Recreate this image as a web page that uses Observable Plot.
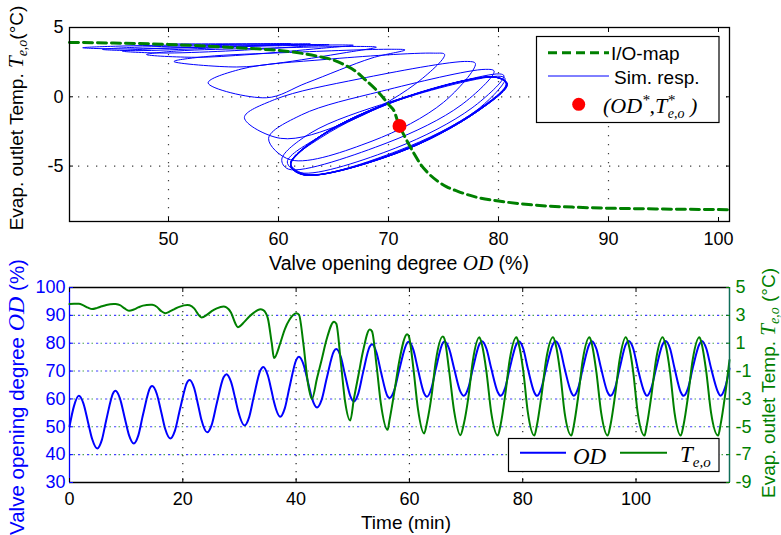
<!DOCTYPE html>
<html><head><meta charset="utf-8">
<script src="https://cdn.jsdelivr.net/npm/d3@7"></script>
<script src="https://cdn.jsdelivr.net/npm/@observablehq/plot@0.6"></script>
<style>
body{margin:0;background:#fff;}
#chart{position:relative;width:781px;height:535px;overflow:hidden;background:#fff;}
#chart svg{position:absolute;left:0;top:0;}
</style></head><body><div id="chart"></div>
<script>
// ---- simulation time series ----
const timeMin = [0,0.8,1.65,2.45,3.27,4.0,4.9,5.7,6.5,
 7.8,8.1,8.9,9.72,10.5,11.35,12.15,12.97,
 14.3,14.6,15.4,16.2,16.9,17.8,18.6,19.5,
 20.8,21.2,22.0,22.75,23.3,24.3,25.1,26.0,
 27.2,27.7,28.5,29.3,29.7,30.9,31.7,32.55,
 33.7,34.2,35.0,35.7,36.1,37.2,38.0,38.85,
 40.05,40.5,41.3,42.1,42.8,43.7,44.5,45.4,
 46.7,47.1,47.9,48.65,49.55,50.2,51.0,51.8,
 53.0,53.4,54.2,54.95,56.15,56.5,57.3,58.2,
 59.6,59.9,60.7,61.5,62.6,63.1,63.9,64.65,
 65.9,66.2,67.0,67.9,69.0,69.6,70.4,71.2,
 72.35,72.8,73.6,74.45,75.6,76.1,76.9,77.7,
 78.9,79.3,80.1,80.9,82.05,82.5,83.3,84.15,
 85.35,85.8,86.6,87.4,88.6,89.0,89.8,90.6,
 91.8,92.2,93.0,93.85,95.0,95.5,96.3,97.1,
 98.2,98.7,99.5,100.3,101.5,101.9,102.7,103.55,
 104.7,105.2,106.0,106.8,107.9,108.4,109.2,110.0,
 111.2,111.6,112.4,113.25,114.5,114.9,115.7,116.5];
const valvePct = [50.1,57.5,61.1,58.4,51.65,45.6,42.2,45.2,52.55,
 62.45,62.9,60.2,53.45,47.0,44.0,46.9,54.3,
 64.2,64.6,61.85,55.2,49.2,45.8,48.55,56.3,
 66.1,66.8,63.9,57.4,52.4,48.0,50.7,58.45,
 67.8,68.9,66.2,59.7,56.2,50.5,53.4,61.0,
 70.3,71.5,68.5,62.55,58.9,53.6,56.6,64.35,
 74.1,75.1,72.4,66.0,60.2,56.9,59.65,67.4,
 77.2,77.9,75.0,68.5,61.1,59.1,62.1,69.35,
 78.8,79.6,76.6,69.95,60.9,60.3,62.95,70.4,
 80.1,80.5,77.6,70.65,62.0,60.8,63.9,70.7,
 80.15,80.6,78.05,70.85,62.6,61.1,63.95,70.9,
 79.6,80.7,78.0,70.9,62.4,61.1,63.95,70.9,
 79.7,80.7,78.0,70.9,62.3,61.1,63.9,71.1,
 79.7,80.75,78.0,70.9,62.2,61.1,63.95,70.9,
 79.8,80.75,78.0,70.8,62.3,61.1,63.95,70.9,
 79.6,80.8,78.1,71.0,62.3,61.1,63.9,71.0,
 79.6,80.8,78.1,71.0,62.4,61.1,63.95,71.0,
 79.7,80.8,78.1,71.0,62.3,61.1,63.95,70.9];
const tempC = [3.81,3.83,3.83,3.72,3.55,3.45,3.54,3.65,3.75,
 3.82,3.81,3.74,3.5,3.33,3.42,3.57,3.7,
 3.77,3.76,3.62,3.3,3.16,3.3,3.47,3.63,
 3.74,3.72,3.5,3.05,2.85,3.05,3.3,3.5,
 3.63,3.58,3.2,2.4,2.15,2.55,2.9,3.2,
 3.43,3.38,2.8,1.0,-0.07,1.0,2.0,2.7,
 3.15,3.05,0.9,-1.9,-3.0,-1.5,-0.2,1.3,
 2.55,2.4,-0.4,-3.2,-4.55,-3.0,-1.3,0.4,
 1.98,1.85,-0.6,-3.3,-5.22,-4.5,-2.6,-0.3,
 1.65,1.5,-0.8,-3.7,-5.48,-4.7,-2.8,-0.3,
 1.48,1.3,-0.95,-3.9,-5.6,-4.8,-2.9,-0.25,
 1.42,0.9,-1.05,-4.0,-5.63,-4.85,-2.75,-0.2,
 1.42,0.95,-1.0,-3.95,-5.63,-4.9,-2.8,-0.15,
 1.42,0.95,-1.05,-4.0,-5.63,-4.95,-2.8,-0.2,
 1.42,0.95,-1.05,-4.0,-5.63,-4.85,-2.75,-0.2,
 1.42,0.9,-1.05,-4.0,-5.63,-4.9,-2.8,-0.15,
 1.42,0.9,-1.05,-4.0,-5.63,-4.85,-2.75,-0.2,
 1.42,0.95,-1.05,-4.0,-5.63,-4.9,-2.8,-0.2];

// ---- static I/O map and operating point ----
const ioMapOD = [41,45,50,55,58,60,62,64,65,66,67,68,69,69.5,70,70.6,70.8,71,71.4,71.85,72.4,72.9,73.6,74.4,75.3,76.3,78,80,82,84.4,87,90.5,95,101];
const ioMapT  = [3.92,3.88,3.78,3.6,3.46,3.35,3.15,2.85,2.65,2.3,1.85,1.15,0.4,-0.05,-0.55,-1.2,-1.7,-2.1,-2.75,-3.43,-4.2,-4.85,-5.5,-6.05,-6.5,-6.82,-7.25,-7.52,-7.72,-7.88,-7.97,-8.05,-8.1,-8.15];
const opPointOD = [71.0];
const opPointT = [-2.1];

// ---- ticks ----
const topXTicks = [50,60,70,80,90,100];
const topYTicks = [-5,0,5];
const timeTicks = [0,20,40,60,80,100];
const odTicks = [30,40,50,60,70,80,90,100];
const tempTicks = [-9,-7,-5,-3,-1,1,3,5];

const sim = timeMin.map((t,i)=>({t, od: valvePct[i], temp: tempC[i]}));
const ioMap = ioMapOD.map((od,i)=>({od, temp: ioMapT[i]}));
const opPoint = opPointOD.map((od,i)=>({od, temp: opPointT[i]}));

const SANS = "'Liberation Sans', Arial, Helvetica, sans-serif";
const SERIF = "'Liberation Serif', 'Times New Roman', serif";
const BLUE = "#0000ff", GREEN = "#008000";
const baseStyle = {background:"transparent", fontFamily:SANS, fontSize:"18px", color:"#000", overflow:"visible"};
const fmt = d => String(d);
const blank = () => "";

const chart = document.getElementById("chart");

// ---- top panel: phase plane ----
const topPlot = Plot.plot({
  width:781, height:535, marginLeft:69, marginRight:52, marginTop:27, marginBottom:314,
  style: baseStyle,
  x:{domain:[41,101], axis:null}, y:{domain:[-9,5], axis:null},
  marks:[
    Plot.gridX(topXTicks.slice(0,5), {stroke:"#000", strokeOpacity:0.75, strokeDasharray:"1.3,7.7", strokeWidth:1.2}),
    Plot.gridY([-5,0], {stroke:"#000", strokeOpacity:0.75, strokeDasharray:"1.3,7.7", strokeWidth:1.2}),
    Plot.line(sim, {x:"od", y:"temp", curve:"catmull-rom", stroke:BLUE, strokeWidth:1}),
    Plot.line(ioMap, {x:"od", y:"temp", curve:"monotone-x", stroke:GREEN, strokeWidth:3, strokeDasharray:"9,5"}),
    Plot.dot(opPoint, {x:"od", y:"temp", r:7, fill:"#ff0000", stroke:"none"}),
    Plot.frame({stroke:"#000", strokeWidth:1.3}),
    Plot.axisX(topXTicks, {tickSize:0, tickPadding:11, tickFormat:fmt, label:null}),
    Plot.axisX(topXTicks, {tickSize:-4, tickFormat:blank, label:null}),
    Plot.axisX(topXTicks, {anchor:"top", tickSize:-4, tickFormat:blank, label:null}),
    Plot.axisY(topYTicks, {tickSize:0, tickPadding:6, tickFormat:fmt, label:null}),
    Plot.axisY(topYTicks, {tickSize:-4, tickFormat:blank, label:null}),
    Plot.axisY(topYTicks, {anchor:"right", tickSize:-4, tickFormat:blank, label:null})
  ]
});
chart.appendChild(topPlot);

// ---- bottom panel: valve opening (left axis) ----
const odPlot = Plot.plot({
  width:781, height:535, marginLeft:69, marginRight:52, marginTop:287, marginBottom:53,
  style: baseStyle,
  x:{domain:[0,116.5], axis:null}, y:{domain:[30,100], axis:null},
  marks:[
    Plot.gridX(timeTicks.slice(1), {stroke:"#000", strokeOpacity:0.85, strokeDasharray:"1.3,6.7", strokeWidth:1.2}),
    Plot.gridY(odTicks.slice(1,7), {stroke:BLUE, strokeOpacity:0.75, strokeDasharray:"2.2,6.8", strokeWidth:1.1}),
    Plot.line(sim, {x:"t", y:"od", curve:"monotone-x", stroke:BLUE, strokeWidth:2}),
    Plot.ruleY([30,100], {stroke:"#000", strokeWidth:1.3}),
    Plot.ruleX([0], {stroke:BLUE, strokeWidth:1.3}),
    Plot.axisX(timeTicks, {tickSize:0, tickPadding:10, tickFormat:fmt, label:null}),
    Plot.axisX(timeTicks, {tickSize:-4, tickFormat:blank, label:null}),
    Plot.axisX(timeTicks, {anchor:"top", tickSize:-4, tickFormat:blank, label:null}),
    Plot.axisY(odTicks, {tickSize:0, tickPadding:4, tickFormat:fmt, fill:BLUE, label:null}),
    Plot.axisY(odTicks, {tickSize:-4, tickFormat:blank, stroke:BLUE, label:null})
  ]
});
chart.appendChild(odPlot);

// ---- bottom panel: evaporator outlet temperature (right axis) ----
const tPlot = Plot.plot({
  width:781, height:535, marginLeft:69, marginRight:52, marginTop:287, marginBottom:53,
  style: baseStyle,
  x:{domain:[0,116.5], axis:null}, y:{domain:[-9,5], axis:null},
  marks:[
    Plot.gridY(tempTicks.slice(1,7), {stroke:GREEN, strokeOpacity:0.7, strokeDasharray:"1.5,7.5", strokeDashoffset:-4.5, strokeWidth:1.1}),
    Plot.line(sim, {x:"t", y:"temp", curve:"monotone-x", stroke:GREEN, strokeWidth:2}),
    Plot.ruleX([116.5], {stroke:"#106e5a", strokeWidth:1.5}),
    Plot.axisY(tempTicks, {anchor:"right", tickSize:0, tickPadding:6, tickFormat:fmt, fill:GREEN, label:null}),
    Plot.axisY(tempTicks, {anchor:"right", tickSize:-4, tickFormat:blank, stroke:GREEN, label:null})
  ]
});
chart.appendChild(tPlot);

// ---- labels and legends ----
const ann = d3.select(chart).append("svg").attr("width",781).attr("height",535)
  .style("font-family", SANS).style("font-size","19px");

function mathLabel(g, parts){
  const t = g.append("text");
  for (const p of parts){
    const s = t.append("tspan").text(p.text);
    if (p.serif){ s.attr("font-family", SERIF).attr("font-style","italic"); }
    if (p.size) s.attr("font-size", p.size);
    if (p.dy) s.attr("dy", p.dy);
    if (p.dx) s.attr("dx", p.dx);
  }
  return t;
}

// top x label
mathLabel(ann.append("g").attr("transform","translate(399,270)"), [
  {text:"Valve opening degree ", size:"19.5px"}, {text:"OD", serif:true, size:"21px"}, {text:" (%)", size:"19.5px"}
]).attr("text-anchor","middle");
// top y label
mathLabel(ann.append("g").attr("transform","translate(23,118) rotate(-90)"), [
  {text:"Evap. outlet Temp. "}, {text:"T", serif:true, size:"21px"},
  {text:"e,o", serif:true, size:"14px", dy:"4"}, {text:"(°C)", dy:"-4"}
]).attr("text-anchor","middle");
// bottom x label
ann.append("text").attr("x",406).attr("y",529).attr("text-anchor","middle").text("Time (min)");
// bottom left y label
mathLabel(ann.append("g").attr("transform","translate(24,397) rotate(-90)"), [
  {text:"Valve opening degree ", size:"20.5px"}, {text:"OD", serif:true, size:"24px"}, {text:" (%)", size:"20.5px"}
]).attr("text-anchor","middle").attr("fill",BLUE);
// bottom right y label
mathLabel(ann.append("g").attr("transform","translate(775,383) rotate(-90)"), [
  {text:"Evap. outlet Temp. "}, {text:"T", serif:true, size:"21px"},
  {text:"e,o", serif:true, size:"14px", dy:"4"}, {text:" (°C)", dy:"-4"}
]).attr("text-anchor","middle").attr("fill",GREEN);

// top legend
const lg = ann.append("g");
lg.append("rect").attr("x",536.5).attr("y",36.5).attr("width",182.5).attr("height",86)
  .attr("fill","#fff").attr("stroke","#000").attr("stroke-width",1.2);
lg.append("line").attr("x1",548).attr("x2",609).attr("y1",52.7).attr("y2",52.7)
  .attr("stroke",GREEN).attr("stroke-width",3).attr("stroke-dasharray","9,5");
lg.append("text").attr("x",611).attr("y",60).text("I/O-map");
lg.append("line").attr("x1",548).attr("x2",609).attr("y1",76).attr("y2",76)
  .attr("stroke",BLUE).attr("stroke-width",1);
lg.append("text").attr("x",614).attr("y",83.5).text("Sim. resp.");
lg.append("circle").attr("cx",578.7).attr("cy",104.3).attr("r",6.5).attr("fill","#ff0000");
mathLabel(lg.append("g").attr("transform","translate(603,113)"), [
  {text:"(OD", serif:true, size:"22px"}, {text:"*", serif:true, size:"15px", dy:"-8"},
  {text:",T", serif:true, size:"22px", dy:"8"}, {text:"*", serif:true, size:"15px", dy:"-8"},
  {text:"e,o", serif:true, size:"14px", dx:"-7", dy:"13"}, {text:" )", serif:true, size:"22px", dy:"-5"}
]);

// bottom legend
const lg2 = ann.append("g");
lg2.append("rect").attr("x",508.5).attr("y",438.5).attr("width",210.5).attr("height",33)
  .attr("fill","#fff").attr("stroke","#000").attr("stroke-width",1.2);
lg2.append("line").attr("x1",520).attr("x2",566).attr("y1",452.7).attr("y2",452.7)
  .attr("stroke",BLUE).attr("stroke-width",2);
lg2.append("text").attr("x",573).attr("y",463.5).attr("font-family",SERIF).attr("font-style","italic")
  .attr("font-size","23px").text("OD");
lg2.append("line").attr("x1",620).attr("x2",667).attr("y1",452.7).attr("y2",452.7)
  .attr("stroke",GREEN).attr("stroke-width",2);
mathLabel(lg2.append("g").attr("transform","translate(680,462)"), [
  {text:"T", serif:true, size:"23px"}, {text:"e,o", serif:true, size:"15px", dy:"5"}
]);
</script></body></html>
